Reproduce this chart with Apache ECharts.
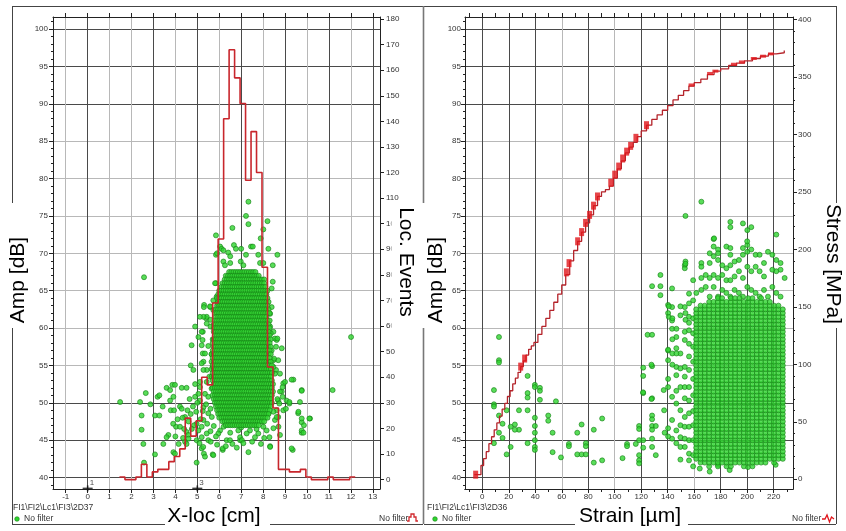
<!DOCTYPE html>
<html><head><meta charset="utf-8">
<script src="https://cdn.jsdelivr.net/npm/echarts@6/dist/echarts.min.js"></script>
<style>html,body{margin:0;padding:0;background:#fff}#c{width:846px;height:531px}</style>
</head><body><div id="c"></div>
<script>
// ---------- tick values ----------
const locTicks = [-1,0,1,2,3,4,5,6,7,8,9,10,11,12,13];
const ampTicks = [40,45,50,55,60,65,70,75,80,85,90,95,100];
const ampMinor = [39,41,42,43,44,46,47,48,49,51,52,53,54,56,57,58,59,61,62,63,64,66,67,68,69,71,72,73,74,76,77,78,79,81,82,83,84,86,87,88,89,91,92,93,94,96,97,98,99,101];
const eventTicks = [0,10,20,30,40,50,60,70,80,90,100,110,120,130,140,150,160,170,180];
const strainTicks = [0,20,40,60,80,100,120,140,160,180,200,220];
const strainMinor = [-10,0,10,20,30,40,50,60,70,80,90,100,110,120,130,140,150,160,170,180,190,200,210,220,230];
const stressTicks = [0,50,100,150,200,250,300,350,400];
const stressMinor = [0,10,20,30,40,60,70,80,90,110,120,130,140,160,170,180,190,210,220,230,240,260,270,280,290,310,320,330,340,360,370,380,390];

// ---------- left: location histogram (Loc. Events, bins of 0.25 cm) ----------
const histStart = [1.45,1.70,1.95,2.20,2.45,2.70,2.95,3.20,3.45,3.70,3.95,4.20,4.45,4.70,4.95,5.20,5.45,5.70,5.95,6.20,6.45,6.70,6.95,7.20,7.45,7.70,7.95,8.20,8.45,8.70,8.95,9.20,9.45,9.70,9.95,10.20,10.45,10.70,10.95,11.20,11.45,11.70,11.95];
const histCount = [1,0,0,1,6,1,3,4,4,7,9,12,24,17,23,40,37,69,94,141,168,157,147,117,136,120,83,44,28,4,4,3,3,4,1,0,0,0,1,0,0,0,1];
const histEnd = 12.2;

// ---------- left: amplitude vs X-loc hits ----------
const leftPts = [
[1.48,50.1],[2.57,66.8],[2.39,50.1],[2.65,51.3],[2.46,48.3],[2.46,46.4],[2.54,44.5],[2.57,42.0],[2.86,49.8],[3.07,43.1],[3.07,48.3],[3.27,48.3],[3.19,50.8],[3.27,51.0],[3.42,49.5],[3.45,44.5],[3.6,52.0],[3.76,51.7],[3.86,52.4],[3.98,52.4],[3.91,50.8],[3.76,50.3],[3.79,49.0],[3.94,49.0],[3.68,45.7],[3.6,45.4],[3.91,43.4],[3.98,43.2],[4.03,46.8],[4.21,46.8],[4.21,49.5],[4.29,49.2],[4.29,52.0],[4.51,52.0],[4.44,48.1],[4.33,48.0],[4.51,46.1],[4.59,45.7],[4.44,44.8],[4.51,44.5],[4.74,57.7],[4.82,54.4],[4.70,55.0],[4.9,60.2],[4.9,50.8],[5.05,58.8],[5.12,52.8],[4.97,47.2],[5.05,46.3],[4.97,45.0],[5.1,44.6],[4.97,42.0],[5.2,43.9],[5.3,43.2],[5.5,45.0],[5.61,44.8],[5.7,43.1],[5.25,59.5],[5.31,63.1],[5.4,61.3],[5.5,57.6],[5.59,62.8],[5.73,63.7],[5.2,57.7],[5.25,56.6],[5.28,55.5],[5.43,54.4],[5.85,66.0],[5.97,63.5],[6.04,64.6],[6.16,43.7],[6.87,46.3],[6.95,45.0],[7.33,43.4],[8.32,44.2],[8.77,45.7],[9.35,43.7],[8.92,49.0],[9.04,49.2],[9.07,50.3],[9.38,53.1],[9.2,49.9],[9.6,48.6],[9.76,51.7],[9.68,50.1],[9.76,47.4],[9.86,47.0],[9.76,46.0],[10.14,47.9],[11.17,51.7],[12.01,58.8],[8.85,51.5],[8.89,50.8],[8.77,53.9],[8.92,52.6],[8.85,57.3],[8.62,58.4],[8.47,59.5],[8.39,57.0],[8.54,58.6],[8.69,55.7],[8.47,55.7],[8.59,54.4],[8.69,50.3],[8.62,49.0],[8.54,47.7],[8.69,48.1],[8.47,46.6],[8.29,45.4],
[7.33,76.9],[7.22,75.0],[7.33,73.9],[6.6,73.4],[8.2,74.3],[8.01,73.2],[5.85,72.4],[7.89,72.0],[6.04,70.9],[6.11,70.6],[6.19,70.4],[6.41,70.1],[6.5,69.6],[6.67,71.1],[6.76,70.6],[7.0,70.6],[7.22,69.8],[7.45,70.9],[7.53,70.9],[7.78,69.8],[8.24,70.6],[8.65,69.8],[5.85,69.8],[7.86,68.7],[8.01,68.7],[8.44,68.4],[6.5,68.7],[5.9,70.0],[6.19,68.9],[6.26,68.4],[6.98,68.9],[7.1,68.4],[8.39,65.3],[8.44,66.2],[5.81,66.0],[5.92,63.3],[5.88,64.2],[5.43,61.5],[5.28,61.5],[5.73,62.4],[5.58,62.9],[5.6,61.1],[5.6,60.2],[8.39,62.8],[8.32,61.9],[8.32,60.2],[8.35,59.3],[8.65,58.6],[8.59,57.5],[8.5,55.9],[8.47,54.8],[8.32,53.9],[8.54,53.9],[8.89,52.1],[8.77,51.5],[9.0,52.8],[9.3,53.1],[8.65,50.5],[8.74,49.9],[8.32,50.3],[8.47,48.8],[8.24,48.6],[8.62,48.1],[9.2,50.1],[9.61,48.8],[9.76,47.9],[10.11,47.9],[9.76,51.6],[9.76,46.3],[9.84,46.0],[9.3,43.9],[8.32,44.1],[6.95,45.4],[7.03,45.0],[6.16,43.9],[5.27,44.1],[5.73,43.0],[5.35,42.8],[6.34,45.0],[6.49,45.0],[7.63,45.4],[7.78,45.9],[8.01,46.8],[8.16,46.3],[8.7,46.8],[7.4,46.3],[7.25,45.9],[6.04,46.3],[5.96,45.9],[5.43,45.9],[5.2,45.4],[5.66,48.1],[5.2,46.8],[5.28,47.7],[5.5,48.6],[5.12,50.3],[5.28,49.4],[5.35,51.2],[5.12,52.1],[5.43,52.8],[5.28,54.4],[5.2,55.3],[5.35,56.6],[5.24,58.4],[5.2,59.5],[5.43,60.6],[5.12,61.5],[5.3,62.8],
[4.6,47.5],[4.7,48.5],[4.8,49.5],[4.85,47.0],[4.75,46.5],[4.95,48.8],[5.0,50.0],[5.05,51.2],[4.9,52.5],[5.15,47.8],[5.25,48.9],[5.4,49.8],[5.5,50.8],[5.6,49.2],[5.65,51.9],[5.55,53.5],[5.45,47.2],[5.6,46.2],[5.75,46.9],[5.85,45.5],[5.9,44.4],[5.7,54.8],[5.65,56.5],[5.7,58.5],[5.75,60.0],[4.65,50.5],[4.55,49.0],[4.4,46.5],[4.35,45.3],[4.6,45.2],[4.15,44.5],[4.1,47.8],[4.0,45.5],[3.9,47.2],[6.3,44.2],[6.6,44.5],[6.8,44.0],[7.1,44.6],[7.5,44.8],[7.9,44.5],[8.05,45.3],[7.7,46.5],[6.2,46.8],[6.5,46.0],[7.0,46.7]
];
// dense core: [amplitude dB, x from, x to] – hit rows read from the solid green mass
const leftCoreRows = [
[67.5,6.45,7.65],[67,6.3,7.85],[66.5,6.25,8.05],[66,6.15,8.1],[65.5,6.1,8.15],[65,6.0,8.2],
[64.5,5.95,8.15],[64,5.9,8.2],[63.5,5.95,8.25],[63,5.9,8.2],[62.5,5.85,8.25],[62,5.8,8.3],
[61.5,5.85,8.2],[61,5.8,8.3],[60.5,5.75,8.25],[60,5.8,8.3],[59.5,5.75,8.25],[59,5.8,8.3],
[58.5,5.75,8.35],[58,5.7,8.3],[57.5,5.75,8.35],[57,5.7,8.3],[56.5,5.65,8.35],[56,5.7,8.3],
[55.5,5.65,8.35],[55,5.7,8.4],[54.5,5.65,8.35],[54,5.7,8.4],[53.5,5.65,8.35],[53,5.7,8.4],
[52.5,5.75,8.45],[52,5.7,8.4],[51.5,5.75,8.45],[51,5.7,8.4],[50.5,5.75,8.35],[50,5.8,8.4],
[49.5,5.85,8.35],[49,5.9,8.3],[48.5,5.95,8.25],[48,6.0,8.2],[47.5,6.15,8.05],[47,6.3,7.8]
];
const sensorLoc = [0, 5];
const sensorId = ['1', '3'];

// ---------- right: stress vs strain ----------
const strainCurve = [-6,-3,-1,1,3,5,7,9,11,13,15,17,19,21,23,25,27,29,31,33,35,37,39,42,45,48,51,54,57,60,63,66,69,72,75,78,81,84,87,90,93,96,99,102,105,108,111,114,117,120,124,128,132,136,140,144,148,152,156,160,165,170,175,180,186,192,198,204,210,216,222,228];
const stressCurve = [4,4,12,18,24,31,37,43,49,55,61,66,72,77,83,88,93,98,103,108,113,116,119,126,133,140,147,154,161,169,178,190,199,207,215,223,230,238,246,250,252,255,262,270,277,284,289,293,298,303,308,313,317,321,325,330,334,338,342,345,348,352,355,357,360,362,364,366,368,370,371,373];
const stressBlocks = [[-5,4],[29,98],[32,105],[63.5,180],[65.5,188],[72,207],[75,215],[78,223],[81,230],[84,238],[87,246],[97,258],[100,265],[103,272],[106,279],[109,285],[112,290],[116,297],[124,308]];
const stressMarks = [[158,343],[172,353],[176,355],[190,361],[196,363],[205,366],[212,368],[218,370]];

// ---------- right: amplitude vs strain hits ----------
const rightPts = [
[121.5,54.7],[121.5,53.6],[121.5,51.3],[124.8,59.1],[128.2,54.9],[128.2,50.6],[128.2,48.3],[128.2,47.8],[128.2,46.9],[128.2,46.4],[128.2,45.2],[128.2,44.1],[131,46.9],[131,43],[128.2,65.6],[134.5,65.6],[134.5,67.1],[134.5,64.4],[137.3,49],[137.7,46],[140.3,63.1],[140.3,62],[143.3,59.9],[143.3,61],[140.3,57],[140.3,55.7],[143.3,62.8],[143.3,65.3],[140.3,53.2],[140.3,52.1],[143.3,50.8],[143.3,47.7],[140.3,46.6],[143.3,45.2],[146.5,58.8],[146.5,57.3],[146.5,54.8],[146.5,53.7],[146.5,51.6],[146.5,49.9],[146.5,46.3],[146.5,44.6],[149.6,56.6],[149.6,54.6],[149.6,52.1],[149.6,49],[149.6,47],[149.6,45.4],[149.6,44.1],[149.6,42.4],[152.9,68.4],[152.9,68],[152.9,62.8],[152.9,59.5],[152.9,58.4],[152.9,54.8],[152.9,53.5],[152.9,52.1],[152.9,50.6],[152.9,48.1],[152.9,46.8],[152.9,45.2],[152.9,44.1],[156.1,64.6],[156.1,63.3],[156.1,61.5],[156.1,59.7],[156.1,57.9],[156.1,56.2],[156.1,54.4],[156.1,52.1],[156.1,50.3],[156.1,48.6],[156.1,46.8],[156.1,45],[156.1,43.2],[156.1,42.3],[159.2,66.4],[159.2,63.7],[159.2,61.3],[159.2,59.3],[159.2,57.5],[159.2,55.5],[159.2,53.2],[159.2,51],[159.2,48.9],[159.2,47],[159.2,45],[159.2,43],[159.2,41.5],[140.8,62.9],[140.8,61.5],[149.6,62.9],[149.6,61.7],[143.5,61.3],[146.6,59.9],[143.5,58.5],[128.2,59.1],[153.4,62],[153.4,61.1],[156.1,60.7],[121.4,51.4],[127.7,55.1],[127.7,50.5],[137,51.7],[140.3,45.5],[143.5,55.1],[143.5,56.6],[140.3,57.1],[146.6,56.6],[121.5,45],[121.5,44],[115.9,44.5],[118.4,46.9],[118.4,46.5],[118.4,45],[118.4,43],[118.4,42.3],[118.4,41.9],[109.3,44.5],[109.3,44.2],[105.9,42.6],[90.5,42.3],[90.5,47.9],[84.2,46.4],[84.2,42.0],[78.2,44.6],[78.2,44.2],[71.7,43.1],[75,43.1],[78.2,43.1],[75,47.1],[71.7,46.0],[65.4,44.5],[65.4,44.2],[59.4,42.7],[55.6,50.2],[53.1,46.0],[53.1,43.4],[49.8,48.3],[49.8,47.6],[43.5,52],[43.5,51.6],[43.5,50.4],[39.7,52.4],[39.7,52.1],[39.7,48.0],[39.7,46.9],[39.7,46.0],[39.7,45.0],[39.7,44.1],[39.7,43.7],[34.2,53.6],[34.2,51.3],[34.2,50.7],[34.2,49.0],[34.2,44.6],[27.7,46.4],[27.7,49.0],[24.6,47.1],[24.6,46.4],[21.4,46.8],[21.4,44.1],[18.4,49.0],[18.4,43.1],[15.3,47.2],[15.3,45.3],[12.6,58.8],[12.6,55.7],[12.6,55.4],[12.6,48.3],[12.6,46.0],[8.8,51.7],[8.8,49.8],[8.8,49.5],[8.8,44.6],
[174.7,71.9],[174.7,70.9],[178,70.5],[178,70],[184.3,70.9],[187.3,70.7],[187.3,69.8],[171.7,70],[174.7,69.6],[165.4,68.7],[165.4,68.2],[171.7,68.7],[178,69.1],[181.2,68.4],[184.3,68],[187.3,68.4],[190.5,68.9],[193.8,69.1],[196.8,70.7],[196.8,69.8],[200.1,71.1],[200.1,70.2],[203.1,70.5],[206.4,69.8],[209.4,69.8],[212.7,68.7],[215.7,70.2],[219,69.8],[222,69.1],[222,67.6],[225.2,68.7],[228.3,66.7],[190.5,66.9],[193.8,67.6],[196.8,66.7],[200.1,68.2],[203.1,67.6],[206.4,68.2],[209.4,67.6],[212.7,66.9],[219,67.8],[225.2,67.8],[165.4,66.7],[168.7,67.1],[171.7,66.7],[174.7,67.1],[178,66.7],[181.2,67.1],[184.3,66.4],[187.3,66.4],[165.4,65.1],[161.6,64.7],[168.7,65.5],[174.7,65.5],[181.2,65.1],[184.3,64.7],[190.5,65.1],[193.8,64.7],[200.1,65.5],[203.1,65.1],[206.4,64.7],[212.7,65.1],[215.7,64.2],[219,65.5],[222,64.7],[225.2,64.2],[171.7,64.2],[178,64.2],[187.3,64.2],[196.8,64.2],[209.4,64.2],
[153.4,75.0],[165.4,76.9],[187.3,74.2],[187.3,73.5],[196.8,74.0],[200.1,73.1],[203.1,73.5],[222,72.5],[175,72],[200,71.6],[153.4,68.9],[153.4,68.6],
[164.2,41.2],[171.7,40.8],[178,41.7],[186.8,41],[200.6,41.4],[221.5,41.7]
];
// dense block: [strain column, amplitude from, amplitude to] – hits every 0.5 dB
const rightBlockCols = [
[161.5,42.5,62.5],[164.8,42,63],[168,42,63],[171.3,41.5,63.5],[174.6,42,63.5],[177.9,41.5,64],[181.1,42,64],[184.4,41.5,63.5],[187.7,41.5,64],[190.9,42,64],[194.2,42,64],[197.5,41.5,63.5],[200.7,42,64],[204,41.5,64],[207.3,42,63.5],[210.5,42,64],[213.8,42,63.5],[217.1,42.5,63.5],[220.3,42,63],[223.6,42.5,63],[226.9,42.5,62.5]
];

// ---------- build series data ----------
const leftData = leftPts.slice();
leftCoreRows.forEach(function (r) {
  for (let x = r[1]; x <= r[2] + 1e-9; x += 0.1) leftData.push([Math.round(x * 100) / 100, r[0]]);
});
const histData = histStart.map(function (s, i) { return [s, histCount[i]]; });
histData.push([histEnd, histCount[histCount.length - 1]]);

const rightData = rightPts.slice();
rightBlockCols.forEach(function (c) {
  for (let a = c[1]; a <= c[2] + 1e-9; a += 0.5) rightData.push([c[0], a]);
});
const curveData = strainCurve.map(function (s, i) { return [s, stressCurve[i]]; });

// ---------- styling ----------
const FONT = '"Liberation Sans", Arial, Helvetica, sans-serif';
const DARK = '#4a4a4a', LIGHT = '#b8b8b8';
const lab = { fontSize: 8, color: '#333', fontFamily: FONT };
const green = { color: '#2fd42f', borderColor: '#168016', borderWidth: 0.8 };

function axisX(grid, min, max, pos, ticks, labels, split, len) {
  return {
    type: 'value', gridIndex: grid, min: min, max: max, position: pos,
    axisLine: { show: true, onZero: false, lineStyle: { color: '#222', width: 1 } },
    axisTick: { show: true, customValues: ticks, length: len || 4, lineStyle: { color: '#222' } },
    axisLabel: labels ? Object.assign({ customValues: labels, margin: 4 }, lab) : { show: false },
    splitLine: split ? { show: true, lineStyle: { color: split, width: 1 } } : { show: false }
  };
}
function axisY(grid, min, max, pos, ticks, labels, split, len, margin, noLine) {
  return {
    type: 'value', gridIndex: grid, min: min, max: max, position: pos,
    axisLine: { show: !noLine, onZero: false, lineStyle: { color: '#222', width: 1 } },
    axisTick: { show: true, customValues: ticks, length: len || 4, lineStyle: { color: '#222' } },
    axisLabel: labels ? Object.assign({ customValues: labels, margin: margin || 5 }, lab) : { show: false },
    splitLine: split ? { show: true, lineStyle: { color: split, width: 1 } } : { show: false }
  };
}

const ampSplit = [DARK, DARK, DARK, LIGHT, LIGHT, LIGHT, LIGHT, LIGHT, LIGHT, LIGHT, DARK, DARK, DARK];
const locSplit = [LIGHT, DARK, LIGHT, LIGHT, DARK, LIGHT, DARK, LIGHT, DARK, LIGHT, DARK, LIGHT, DARK, LIGHT, DARK];
const strainSplit = [DARK, DARK, DARK, LIGHT, DARK, LIGHT, DARK, DARK, LIGHT, DARK, DARK, DARK];

function line(x1, y1, x2, y2, c, w) {
  return { type: 'line', z: 100, shape: { x1: x1, y1: y1, x2: x2, y2: y2 }, style: { stroke: c || '#444', lineWidth: w || 1 } };
}
function txt(x, y, t, size, rot, extra) {
  return { type: 'text', z: 101, x: x, y: y, rotation: rot || 0,
    style: Object.assign({ text: t, font: size + 'px ' + FONT, fill: '#000', align: 'center', verticalAlign: 'middle' }, extra || {}) };
}

const graphics = [
  line(12, 6.5, 836, 6.5),
  line(12.5, 6, 12.5, 203), line(12.5, 328, 12.5, 524),
  line(12, 524.5, 165, 524.5), line(270, 524.5, 423, 524.5),
  line(423.5, 6, 423.5, 203, '#777', 1.6), line(423.5, 328, 423.5, 524, '#777', 1.6),
  line(424, 524.5, 575, 524.5), line(688, 524.5, 836, 524.5),
  line(836.5, 6, 836.5, 203), line(836.5, 328, 836.5, 524),
  txt(18, 280, 'Amp [dB]', 21, Math.PI / 2),
  txt(436, 280, 'Amp [dB]', 21, Math.PI / 2),
  txt(406, 265, 'Loc. Events', 21, -Math.PI / 2, { backgroundColor: '#fff', padding: [2, 12, 6, 6] }),
  txt(833, 264, 'Stress [MPa]', 21, -Math.PI / 2),
  txt(214, 516, 'X-loc [cm]', 21, 0),
  txt(630, 516, 'Strain [\u00b5m]', 21, 0),
  txt(13, 508, 'FI1\\FI2\\Lc1\\FI3\\2D37', 8.5, 0, { align: 'left', fill: '#333' }),
  txt(24, 519, 'No filter', 8.5, 0, { align: 'left', fill: '#333' }),
  txt(427, 508, 'FI1\\FI2\\Lc1\\FI3\\2D36', 8.5, 0, { align: 'left', fill: '#333' }),
  txt(442, 519, 'No filter', 8.5, 0, { align: 'left', fill: '#333' }),
  txt(379, 519, 'No filter', 8.5, 0, { align: 'left', fill: '#333' }),
  txt(792, 519, 'No filter', 8.5, 0, { align: 'left', fill: '#333' }),
  { type: 'circle', z: 101, shape: { cx: 17, cy: 519, r: 2.3 }, style: { fill: '#2fd42f', stroke: '#168016', lineWidth: 0.6 } },
  { type: 'circle', z: 101, shape: { cx: 435, cy: 519, r: 2.3 }, style: { fill: '#2fd42f', stroke: '#168016', lineWidth: 0.6 } },
  { type: 'polyline', z: 101, shape: { points: [[407, 521], [409, 521], [409, 517], [411, 517], [411, 514], [414, 514], [414, 517], [416, 517], [416, 521], [418, 521]] }, style: { stroke: '#d0282d', lineWidth: 1.3, fill: null } },
  { type: 'polyline', z: 101, shape: { points: [[822, 519], [825, 519], [827, 515], [829.5, 522], [831.5, 517], [834, 519]] }, style: { stroke: '#e0161c', lineWidth: 1.3, fill: null } }
];

const option = {
  animation: false,
  backgroundColor: '#fff',
  grid: [
    { left: 53, top: 17, width: 327, height: 472 },
    { left: 465, top: 17, width: 328, height: 472 }
  ],
  xAxis: [
    axisX(0, -1.58, 13.33, 'bottom', locTicks, locTicks, locSplit),
    axisX(0, -1.58, 13.33, 'top', locTicks, null, null),
    axisX(1, -13.05, 234.6, 'bottom', strainTicks, strainTicks, strainSplit),
    axisX(1, -13.05, 234.6, 'top', strainMinor, null, null),
    axisX(1, -13.05, 234.6, 'bottom', strainMinor, null, null, 3)
  ],
  yAxis: [
    axisY(0, 38.47, 101.61, 'left', ampTicks, ampTicks, ampSplit, 4, 5),
    axisY(0, -3.68, 180.78, 'right', eventTicks, eventTicks, null, 4, 6),
    axisY(0, 38.47, 101.61, 'left', ampMinor, null, null, 2, 5, true),
    axisY(1, 38.47, 101.61, 'left', ampTicks, ampTicks, ampSplit, 4, 4),
    axisY(1, -8.45, 402.1, 'right', stressTicks, stressTicks, null, 4, 5),
    axisY(1, 38.47, 101.61, 'left', ampMinor, null, null, 2, 5, true),
    axisY(1, -8.45, 402.1, 'right', stressMinor, null, null, 2, 5, true)
  ],
  series: [
    { type: 'scatter', name: 'No filter', xAxisIndex: 0, yAxisIndex: 0, data: leftData, symbol: 'circle', symbolSize: 5, itemStyle: green, z: 3 },
    { type: 'line', name: 'Loc. Events', xAxisIndex: 0, yAxisIndex: 1, data: histData, step: 'end', showSymbol: false, symbol: 'none',
      lineStyle: { color: '#c8262c', width: 1.6 }, z: 4 },
    { type: 'scatter', xAxisIndex: 0, yAxisIndex: 0, data: sensorLoc.map(function (v, i) { return { value: [v, 38.55], name: sensorId[i] }; }),
      symbol: 'rect', symbolSize: [10, 1.6], itemStyle: { color: '#111' }, z: 5,
      label: { show: true, formatter: '{b}', position: [7, -9], fontSize: 8, color: '#222', fontFamily: FONT } },
    { type: 'scatter', xAxisIndex: 0, yAxisIndex: 0, data: sensorLoc.map(function (v) { return [v, 38.55]; }),
      symbol: 'rect', symbolSize: [1.6, 6], itemStyle: { color: '#111' }, z: 5 },
    { type: 'scatter', name: 'No filter', xAxisIndex: 2, yAxisIndex: 3, data: rightData, symbol: 'circle', symbolSize: 5, itemStyle: green, z: 3 },
    { type: 'line', name: 'Stress', xAxisIndex: 2, yAxisIndex: 4, data: curveData, step: 'end', showSymbol: false, symbol: 'none',
      lineStyle: { color: '#b4232a', width: 1.3 }, z: 4 },
    { type: 'scatter', xAxisIndex: 2, yAxisIndex: 4, data: stressBlocks, symbol: 'rect', symbolSize: [5, 8], itemStyle: { color: '#e0161c' }, z: 5 },
    { type: 'scatter', xAxisIndex: 2, yAxisIndex: 4, data: stressMarks, symbol: 'rect', symbolSize: [6, 3], itemStyle: { color: '#e0161c' }, z: 5 }
  ],
  graphic: graphics
};

const chart = echarts.init(document.getElementById('c'), null, { renderer: 'canvas' });
chart.setOption(option);
</script></body></html>
